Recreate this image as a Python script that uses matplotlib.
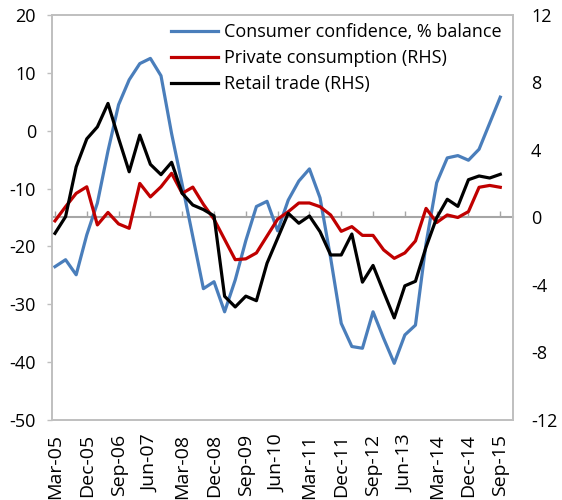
import numpy as np
import matplotlib
matplotlib.use("Agg")
import matplotlib.pyplot as plt

plt.rcParams['font.family'] = ['Open Sans', 'DejaVu Sans']
plt.rcParams['axes.unicode_minus'] = False

# quarterly data, Mar-05 .. Sep-15
tick_labels = ['Mar-05', 'Dec-05', 'Sep-06', 'Jun-07', 'Mar-08', 'Dec-08', 'Sep-09',
               'Jun-10', 'Mar-11', 'Dec-11', 'Sep-12', 'Jun-13', 'Mar-14', 'Dec-14', 'Sep-15']

# consumer confidence, % balance (LHS)
confidence = [-23.5, -22.3, -24.9, -18.0, -12.5, -3.5, 4.5, 8.8, 11.6, 12.5, 9.5,
              -0.5, -9.3, -18.3, -27.3, -26.1, -31.3, -25.8, -19.0, -13.1, -12.2,
              -17.3, -12.0, -8.7, -6.6, -11.6, -22.0, -33.3, -37.3, -37.6, -31.3,
              -35.9, -40.2, -35.3, -33.6, -19.5, -9.0, -4.7, -4.3, -5.1, -3.2, 1.3, 5.8]

# private consumption (RHS)
private_cons = [-0.2, 0.64, 1.43, 1.82, -0.44, 0.3, -0.38, -0.64, 2.02, 1.22, 1.82,
                2.62, 1.43, 1.8, 0.78, -0.1, -1.3, -2.5, -2.45, -2.1, -1.1,
                -0.1, 0.34, 0.86, 0.86, 0.64, 0.15, -0.82, -0.54, -1.06, -1.06,
                -1.92, -2.42, -2.1, -1.39, 0.54, -0.3, 0.15, 0.0, 0.35, 1.79, 1.9, 1.79]

# retail trade (RHS)
retail = [-0.94, 0.05, 3.0, 4.66, 5.37, 6.76, 4.69, 2.71, 4.88, 3.15, 2.54,
          3.27, 1.43, 0.74, 0.47, 0.1, -4.67, -5.3, -4.66, -4.93, -2.71,
          -1.23, 0.25, -0.34, 0.09, -0.84, -2.22, -2.22, -0.98, -3.83, -2.84,
          -4.41, -5.95, -4.05, -3.78, -1.75, -0.02, 1.08, 0.66, 2.24, 2.46, 2.34, 2.56]

blue = '#4A7EBB'
red = '#C00000'
grey = '#BFBFBF'
fs = 13

fig = plt.figure(figsize=(5.62, 5.0), dpi=100)
ax = fig.add_axes([52/562, 80/500, 461/562, 405/500])
x = np.arange(len(confidence))

l1, = ax.plot(x, confidence, color=blue, lw=2.3, label='Consumer confidence, % balance')
ax.set_ylim(-50, 20)
ax.set_yticks(range(-50, 21, 10))
ax.set_xlim(-0.28, 43.2)
ax.set_xticks(x[::3])
ax.set_xticklabels(tick_labels, rotation=90)
ax.tick_params(axis='x', length=0, pad=10, labelsize=14)
ax.tick_params(axis='y', length=3.5, width=1, color=grey, pad=8, labelsize=fs)
for s in ax.spines.values():
    s.set_color(grey)
    s.set_linewidth(1.2)

ax2 = ax.twinx()
l2, = ax2.plot(x, private_cons, color=red, lw=2.3, label='Private consumption (RHS)')
l3, = ax2.plot(x, retail, color='black', lw=2.3, label='Retail trade (RHS)')
ax2.set_ylim(-12, 12)
ax2.set_yticks(range(-12, 13, 4))
ax2.tick_params(axis='y', length=0, pad=13, labelsize=fs)
for s in ax2.spines.values():
    s.set_color(grey)
    s.set_linewidth(1.2)

# horizontal axis line at RHS zero, with tick marks
sec = ax.secondary_xaxis(0.5)
sec.set_xticks(x[::3])
sec.set_xticklabels([])
sec.tick_params(length=4, width=1, color='#A6A6A6')
for s in sec.spines.values():
    s.set_color('#A6A6A6')
    s.set_linewidth(1.5)
sec.set_zorder(0)

ax2.legend(handles=[l1, l2, l3], loc='upper right', bbox_to_anchor=(0.975, 0.98),
           frameon=False, fontsize=fs, handlelength=2.55, handletextpad=0.35,
           labelspacing=0.45, borderaxespad=0, borderpad=0)

fig.savefig('out.png', dpi=100)
